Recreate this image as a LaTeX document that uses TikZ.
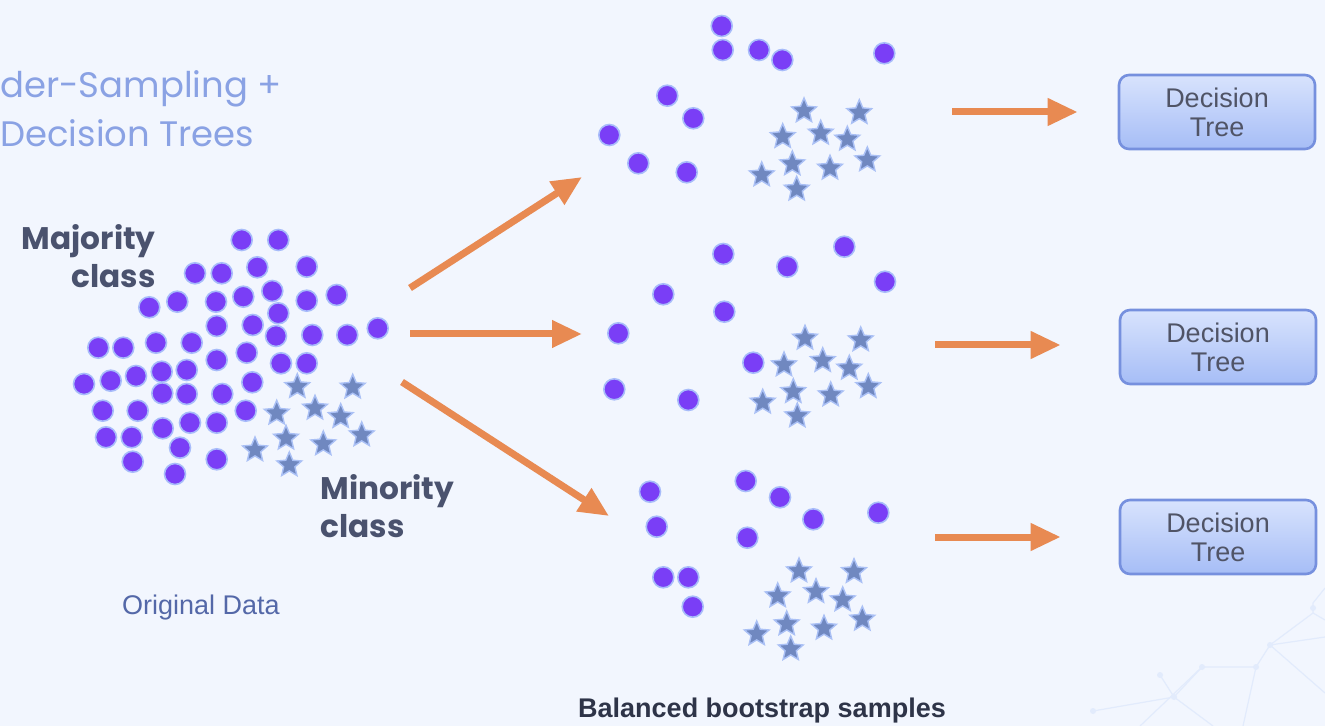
\documentclass[tikz,border=0pt]{standalone}
\usepackage{fontspec}
\setmainfont{Poppins}
\newfontfamily\arialfont{Liberation Sans}
\usetikzlibrary{shapes.geometric,arrows.meta}

\definecolor{bgc}{RGB}{242,246,254}
\definecolor{dotc}{RGB}{122,62,246}
\definecolor{haloc}{RGB}{168,188,250}
\definecolor{starc}{RGB}{112,136,192}
\definecolor{starhalo}{RGB}{170,192,245}
\definecolor{arrowc}{RGB}{232,138,82}
\definecolor{titlec}{RGB}{138,162,228}
\definecolor{labelc}{RGB}{74,82,110}
\definecolor{smallc}{RGB}{84,104,168}
\definecolor{boxtop}{RGB}{216,227,253}
\definecolor{boxbot}{RGB}{166,189,246}
\definecolor{boxline}{RGB}{118,144,222}
\definecolor{boxtext}{RGB}{80,84,102}
\definecolor{netc}{RGB}{226,235,252}

\tikzset{
  dot/.style={circle, inner sep=0pt, minimum size=10.5pt, fill=dotc, draw=haloc, line width=0.8pt},
  starmark/.style={star, star points=5, star point ratio=2.2, inner sep=0pt, minimum size=13pt,
    fill=starc, draw=starhalo, line width=0.7pt},
  flow/.style={draw=arrowc, line width=3.5pt, -{Triangle[length=15pt,width=13pt]}},
  treebox/.style={rounded corners=5pt, minimum width=98pt, minimum height=37pt,
    top color=boxtop, bottom color=boxbot, draw=boxline, line width=1.3pt,
    font=\arialfont\fontsize{13.5}{14.5}\selectfont, text=boxtext, align=center},
  titletext/.style={inner sep=0pt, text=titlec, font=\fontsize{17.7}{22}\selectfont},
  classlabel/.style={inner sep=0pt, text=labelc, font=\bfseries\fontsize{15.6}{19}\selectfont},
}

\begin{document}
\begin{tikzpicture}[x=0.5pt,y=-0.5pt]
\fill[bgc] (0,0) rectangle (1325,726);
\useasboundingbox (0,0) rectangle (1325,726);

% faint network pattern in the lower right corner
\begin{scope}[draw=netc, line width=0.6pt]
  \draw (1325,588) -- (1313,603) -- (1313,613) -- (1270,645) -- (1256,667) -- (1202,667) -- (1174,697) -- (1093,711);
  \draw (1160,675) -- (1174,697) -- (1213,726);
  \draw (1256,667) -- (1243,726);
  \draw (1270,645) -- (1325,693);
  \draw (1270,645) -- (1325,637);
  \draw (1202,667) -- (1140,726);
  \draw (1313,613) -- (1325,620);
  \fill[netc] (1270,645) circle (3) (1256,667) circle (3) (1202,667) circle (3)
    (1174,697) circle (3) (1160,675) circle (3) (1093,711) circle (3) (1313,608) circle (3);
\end{scope}

% title
\node[titletext, anchor=base west] (title1) at (0,98) {der-Sampling +};
\node[titletext, anchor=base west] (title2) at (0,147) {Decision Trees};

% original data: majority class
\foreach \px/\py [count=\i] in {
  241.7/240, 278.3/240, 195/273.3, 221.7/273.3, 257.3/267.3, 306.7/266.7,
  149.3/307.3, 177.3/301.7, 216/301.7, 243.3/296.7, 272.3/291, 306.7/300.7,
  336.7/295, 278.3/313.3, 216.7/326, 252.7/325, 276/336, 312.3/335,
  347.3/335, 377.7/328.3, 98.3/347.7, 123.3/347.7, 156/342.7, 191.7/342.7,
  216.7/360, 246.7/352.7, 281/363.3, 306.7/363.3, 84/384, 110.7/380.7,
  136/376, 161.7/371.7, 186.7/370, 162.3/393.3, 186.7/394, 222.3/394,
  252.3/382.3, 102.7/410.7, 137.7/410.7, 245.7/410.7, 162.7/428.3, 190/422.7,
  216.7/422.7, 106/437.3, 131.7/437.3, 180/447.7, 132.7/461.7, 216.7/459.3,
  175/474}
  \node[dot] (od\i) at (\px,\py) {};

% original data: minority class
\foreach \px/\py [count=\i] in {
  297.3/386.7, 352.7/387.3, 276.7/413.3, 315/408.3, 340.7/416.7,
  361.7/435, 286/438.3, 323.3/444, 255/450, 289.3/465}
  \node[starmark] (os\i) at (\px,\py) {};

% first bootstrap sample
\foreach \px/\py [count=\i] in {
  721.7/26, 722.7/50, 759/50, 782.3/60, 884.3/53.3, 667.3/95.7,
  693.3/118.3, 609.3/135, 638.3/163.3, 686.7/172.3}
  \node[dot] (ad\i) at (\px,\py) {};
\foreach \px/\py [count=\i] in {
  804/111, 859.3/112.7, 782.7/136.7, 820.7/133.3, 847.3/139.3,
  867.3/160, 792.3/164, 830/168.3, 761.7/175, 796.7/189.3}
  \node[starmark] (as\i) at (\px,\py) {};

% second bootstrap sample
\foreach \px/\py [count=\i] in {
  723.3/254, 787.3/266.7, 844.3/246.7, 885/281.7, 663.3/294.3,
  724.3/311.7, 618.3/333.3, 753.3/362.7, 614.3/389.3, 688.3/400}
  \node[dot] (bd\i) at (\px,\py) {};
\foreach \px/\py [count=\i] in {
  805/338.3, 860.7/340, 784/365, 822.7/360.7, 849.3/368.3,
  868.3/386.7, 793.3/391.7, 830.7/395, 762.7/402.3, 797.3/416}
  \node[starmark] (bs\i) at (\px,\py) {};

% third bootstrap sample
\foreach \px/\py [count=\i] in {
  650/491.7, 745.7/481, 780/497.3, 813.3/519.3, 878.3/512.7,
  656.7/526.7, 747.3/537.7, 663.3/577.3, 688.3/577.3, 692.7/606.7}
  \node[dot] (cd\i) at (\px,\py) {};
\foreach \px/\py [count=\i] in {
  799/571, 854/571.7, 777.7/596, 816/591.7, 842.7/600,
  862.3/619.3, 786.7/624, 824/628.3, 756.7/634, 790.7/649}
  \node[starmark] (cs\i) at (\px,\py) {};

% labels
\node[classlabel, align=right, anchor=north east] (major) at (156,224) {Majority\\class};
\node[classlabel, align=left, anchor=north west] (minor) at (320,474) {Minority\\class};
\node[inner sep=0pt, text=smallc, font=\arialfont\fontsize{13.5}{15}\selectfont] (orig) at (201,608) {Original Data};
\node[inner sep=0pt, text={rgb,255:red,46;green,52;blue,72}, font=\arialfont\bfseries\fontsize{13.5}{15}\selectfont] (balanced) at (762,711) {Balanced bootstrap samples};

% classifiers
\node[treebox] (tree1) at (1217,112) {Decision\\Tree};
\node[treebox] (tree2) at (1218,347) {Decision\\Tree};
\node[treebox] (tree3) at (1218,537) {Decision\\Tree};

% sampling arrows
\coordinate (s1) at (410,288);
\coordinate (e1) at (582,177);
\coordinate (s2) at (410,334);
\coordinate (e2) at (582,334);
\coordinate (s3) at (402,382);
\coordinate (e3) at (609,516);
\draw[flow] (s1) -- (e1);
\draw[flow] (s2) -- (e2);
\draw[flow] (s3) -- (e3);

% training arrows
\coordinate (f1) at (952,112);
\coordinate (f2) at (935,345);
\coordinate (f3) at (935,537);
\draw[flow, shorten >=20pt] (f1) -- (tree1.west);
\draw[flow, shorten >=29pt] (f2) -- (tree2.west |- f2);
\draw[flow, shorten >=29pt] (f3) -- (tree3.west |- f3);
\end{tikzpicture}
\end{document}
